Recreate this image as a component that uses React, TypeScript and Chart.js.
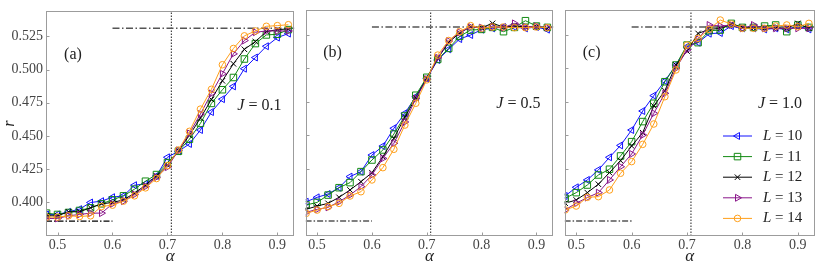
import React, { useEffect, useRef } from 'react';
import { Chart, registerables } from 'chart.js';
import { drawPoint } from 'chart.js/helpers';

Chart.register(...registerables);

const FONT = "'Liberation Serif', 'Times New Roman', serif";

// ---- data ----
const ALPHAS = [0.48, 0.50, 0.52, 0.54, 0.56, 0.58, 0.60, 0.62, 0.64, 0.66, 0.68, 0.70,
  0.72, 0.74, 0.76, 0.78, 0.80, 0.82, 0.84, 0.86, 0.88, 0.90, 0.92];
const SIZES = ['10', '11', '12', '13', '14'];

const A_L10 = [0.391, 0.391, 0.393, 0.395, 0.400, 0.401, 0.404, 0.405, 0.413, 0.414, 0.420, 0.434, 0.4385, 0.444, 0.4545, 0.468, 0.4777, 0.4873, 0.5006, 0.509, 0.5175, 0.524, 0.527];
const A_L11 = [0.392, 0.391, 0.3925, 0.394, 0.396, 0.399, 0.402, 0.405, 0.410, 0.416, 0.421, 0.430, 0.4385, 0.4476, 0.4595, 0.4745, 0.4848, 0.494, 0.5079, 0.5195, 0.526, 0.5265, 0.530];
const A_L12 = [0.390, 0.390, 0.393, 0.393, 0.396, 0.399, 0.400, 0.402, 0.407, 0.413, 0.420, 0.428, 0.439, 0.4505, 0.4635, 0.4775, 0.4915, 0.5043, 0.5152, 0.521, 0.5285, 0.530, 0.5305];
const A_L13 = [0.388, 0.388, 0.390, 0.391, 0.392, 0.392, 0.399, 0.401, 0.406, 0.412, 0.419, 0.4266, 0.4392, 0.452, 0.4665, 0.482, 0.4968, 0.5118, 0.5218, 0.528, 0.529, 0.529, 0.529];
const A_L14 = [0.389, 0.389, 0.390, 0.3895, 0.390, 0.397, 0.398, 0.401, 0.405, 0.411, 0.418, 0.4278, 0.4395, 0.4535, 0.4702, 0.4851, 0.5036, 0.5158, 0.5253, 0.529, 0.5325, 0.533, 0.5337];

const B_L10 = [0.4004, 0.4037, 0.4062, 0.4109, 0.4192, 0.4229, 0.4353, 0.442, 0.4553, 0.4665, 0.479, 0.4926, 0.5063, 0.5143, 0.522, 0.525, 0.529, 0.530, 0.531, 0.531, 0.530, 0.531, 0.529];
const B_L11 = [0.398, 0.3999, 0.4054, 0.4109, 0.4147, 0.4229, 0.4316, 0.4391, 0.451, 0.4645, 0.480, 0.4934, 0.5068, 0.515, 0.524, 0.5287, 0.5292, 0.5307, 0.5275, 0.5307, 0.5357, 0.5317, 0.5307];
const B_L12 = [0.3947, 0.3972, 0.3992, 0.4037, 0.4092, 0.4154, 0.4221, 0.434, 0.4478, 0.4635, 0.478, 0.4926, 0.5075, 0.5195, 0.5265, 0.5312, 0.5305, 0.5337, 0.531, 0.5318, 0.531, 0.5312, 0.530];
const B_L13 = [0.3925, 0.3947, 0.3962, 0.4004, 0.4054, 0.4117, 0.4204, 0.4328, 0.4441, 0.460, 0.4775, 0.492, 0.508, 0.5205, 0.527, 0.531, 0.5305, 0.531, 0.5305, 0.5337, 0.531, 0.5315, 0.5305];
const B_L14 = [0.3917, 0.3942, 0.3967, 0.3992, 0.4047, 0.4079, 0.4167, 0.4259, 0.4396, 0.4577, 0.474, 0.4915, 0.510, 0.5209, 0.5275, 0.532, 0.530, 0.531, 0.531, 0.5305, 0.5305, 0.531, 0.5305];

const C_L10 = [0.4047, 0.4112, 0.4167, 0.4242, 0.4336, 0.4425, 0.454, 0.4682, 0.4797, 0.4906, 0.5026, 0.5163, 0.5193, 0.526, 0.5265, 0.5317, 0.530, 0.530, 0.5292, 0.530, 0.5292, 0.5317, 0.5292];
const C_L11 = [0.403, 0.4072, 0.4129, 0.4204, 0.4247, 0.4346, 0.4453, 0.4603, 0.474, 0.4901, 0.5026, 0.5175, 0.5193, 0.5282, 0.5287, 0.5337, 0.5307, 0.5307, 0.5317, 0.5325, 0.5275, 0.5325, 0.5307];
const C_L12 = [0.3993, 0.4017, 0.4072, 0.4135, 0.4222, 0.4311, 0.4421, 0.452, 0.472, 0.4834, 0.5026, 0.513, 0.5262, 0.5292, 0.530, 0.5332, 0.5307, 0.530, 0.530, 0.530, 0.530, 0.5337, 0.530];
const C_L13 = [0.3943, 0.3993, 0.4035, 0.4072, 0.4167, 0.4266, 0.4361, 0.4503, 0.4665, 0.4814, 0.5001, 0.5138, 0.5218, 0.5325, 0.5317, 0.5325, 0.530, 0.5325, 0.530, 0.530, 0.530, 0.530, 0.530];
const C_L14 = [0.3943, 0.3972, 0.4037, 0.4042, 0.4092, 0.4217, 0.4304, 0.4433, 0.4585, 0.4789, 0.4989, 0.5175, 0.5225, 0.5292, 0.5362, 0.5332, 0.530, 0.530, 0.530, 0.5317, 0.5325, 0.5312, 0.5337];

const X_MIN = 0.479;
const X_MAX = 0.931;
const Y_MIN = 0.3748;
const Y_MAX = 0.5437;
const X_TICKS = [0.5, 0.6, 0.7, 0.8, 0.9];
const Y_TICKS = [0.400, 0.425, 0.450, 0.475, 0.500, 0.525];
const R_HIGH = 0.531;
const R_LOW = 0.386;
const ALPHA_C = 0.7071;
const ALPHA_SPLIT = 0.6;

const PANEL_TAGS = ['(a)', '(b)', '(c)'];
const PANEL_J = ['0.1', '0.5', '1.0'];

// ---- styles ----
const STYLES = [
  { color: '#1010ff', pointStyle: 'triangle', rotation: -90, radius: 4 },
  { color: '#138a13', pointStyle: 'rect', rotation: 0, radius: 4.6 },
  { color: '#000000', pointStyle: 'crossRot', rotation: 0, radius: 3.9 },
  { color: '#8a168a', pointStyle: 'triangle', rotation: 90, radius: 4 },
  { color: '#ff9f1a', pointStyle: 'circle', rotation: 0, radius: 3.3 },
];
const FRAME_COLOR = '#9c9c9c';
const TICK_COLOR = '#444444';
const TEXT_COLOR = '#222222';

type Part = { t: string; italic?: boolean };

function drawParts(ctx: CanvasRenderingContext2D, parts: Part[], x: number, y: number, size: number, align: 'left' | 'right' | 'center') {
  const widths = parts.map((p) => {
    ctx.font = `${p.italic ? 'italic ' : ''}${size}px ${FONT}`;
    return ctx.measureText(p.t).width;
  });
  const total = widths.reduce((a, b) => a + b, 0);
  let cx = align === 'left' ? x : align === 'right' ? x - total : x - total / 2;
  ctx.textAlign = 'left';
  ctx.textBaseline = 'middle';
  parts.forEach((p, i) => {
    ctx.font = `${p.italic ? 'italic ' : ''}${size}px ${FONT}`;
    ctx.fillText(p.t, cx, y);
    cx += widths[i];
  });
}

const framePlugin = {
  id: 'frame',
  afterDatasetsDraw(chart: any) {
    const { ctx, chartArea } = chart;
    const l = Math.round(chartArea.left) + 0.5;
    const t = Math.round(chartArea.top) + 0.5;
    const r = Math.round(chartArea.right) - 0.5;
    const b = Math.round(chartArea.bottom) - 0.5;
    ctx.save();
    ctx.strokeStyle = FRAME_COLOR;
    ctx.lineWidth = 1;
    ctx.strokeRect(l, t, r - l, b - t);
    ctx.beginPath();
    X_TICKS.forEach((v) => {
      const px = Math.round(chart.scales.x.getPixelForValue(v)) + 0.5;
      ctx.moveTo(px, b);
      ctx.lineTo(px, b - 3);
    });
    Y_TICKS.forEach((v) => {
      const py = Math.round(chart.scales.y.getPixelForValue(v)) + 0.5;
      ctx.moveTo(l, py);
      ctx.lineTo(l + 3, py);
    });
    ctx.stroke();
    ctx.restore();
  },
};

function makeTextPlugin(panel: number) {
  return {
    id: 'panelText' + panel,
    afterDraw(chart: any) {
      const { ctx, chartArea } = chart;
      ctx.save();
      ctx.fillStyle = TEXT_COLOR;
      drawParts(ctx, [{ t: PANEL_TAGS[panel] }], chartArea.left + 27, chartArea.top + 43, 16, 'center');
      drawParts(ctx, [{ t: 'J', italic: true }, { t: ' = ' + PANEL_J[panel] }], chartArea.right - 13, chartArea.top + 94, 16, 'right');
      if (panel === 2) {
        SIZES.forEach((s, i) => {
          const st = STYLES[i];
          const y = chartArea.top + 126 + i * 20.6;
          const x1 = chartArea.right - 92;
          const x2 = chartArea.right - 63;
          ctx.strokeStyle = st.color;
          ctx.lineWidth = 1;
          ctx.beginPath();
          ctx.moveTo(x1, y);
          ctx.lineTo(x2, y);
          ctx.stroke();
          ctx.fillStyle = 'rgba(255,255,255,0)';
          drawPoint(ctx, { pointStyle: st.pointStyle as any, rotation: st.rotation, radius: st.radius, borderWidth: 1 } as any, (x1 + x2) / 2, y);
          ctx.fillStyle = TEXT_COLOR;
          drawParts(ctx, [{ t: 'L', italic: true }, { t: ' = ' + s }], chartArea.right - 52, y, 15, 'left');
        });
      }
      ctx.restore();
    },
  };
}

const PANEL_SERIES = [
  [A_L10, A_L11, A_L12, A_L13, A_L14],
  [B_L10, B_L11, B_L12, B_L13, B_L14],
  [C_L10, C_L11, C_L12, C_L13, C_L14],
];

const PANELS = [
  { left: 0, width: 300, padLeft: 0, padRight: 2, showY: true },
  { left: 300, width: 259, padLeft: 5, padRight: 2, showY: false },
  { left: 559, width: 263, padLeft: 4, padRight: 7, showY: false },
];

function buildConfig(panel: number): any {
  const p = PANELS[panel];
  const series = PANEL_SERIES[panel].map((vals, i) => {
    const st = STYLES[i];
    return {
      label: 'L = ' + SIZES[i],
      data: ALPHAS.map((a, k) => ({ x: a, y: vals[k] })),
      borderColor: st.color,
      backgroundColor: 'rgba(255,255,255,0)',
      borderWidth: 1,
      pointStyle: st.pointStyle,
      rotation: st.rotation,
      pointRadius: st.radius,
      pointBorderColor: st.color,
      pointBackgroundColor: 'rgba(255,255,255,0)',
      pointBorderWidth: 1,
      tension: 0,
      clip: 0,
      order: 5 - i,
    };
  });
  const refLines = [
    {
      label: 'high',
      data: [{ x: ALPHA_SPLIT, y: R_HIGH }, { x: X_MAX, y: R_HIGH }],
      borderColor: '#555555', borderWidth: 1.5, borderDash: [7, 2.5, 1.5, 2.5],
      pointRadius: 0, clip: 0, order: 10,
    },
    {
      label: 'low',
      data: [{ x: X_MIN, y: R_LOW }, { x: ALPHA_SPLIT, y: R_LOW }],
      borderColor: '#000000', borderWidth: 1.2, borderDash: [6, 2, 1.5, 2],
      pointRadius: 0, clip: 0, order: 10,
    },
    {
      label: 'critical',
      data: [{ x: ALPHA_C, y: Y_MIN }, { x: ALPHA_C, y: Y_MAX }],
      borderColor: '#333333', borderWidth: 1.1, borderDash: [1.5, 1.5],
      pointRadius: 0, clip: 0, order: 10,
    },
  ];
  return {
    type: 'line',
    data: { datasets: [...series, ...refLines] },
    options: {
      animation: false,
      responsive: false,
      events: [],
      layout: { padding: { left: p.padLeft, right: p.padRight, top: 10, bottom: 0 } },
      plugins: { legend: { display: false }, tooltip: { enabled: false } },
      scales: {
        x: {
          type: 'linear',
          min: X_MIN,
          max: X_MAX,
          grid: { display: false, drawTicks: false },
          border: { display: false },
          afterBuildTicks: (s: any) => { s.ticks = X_TICKS.map((v) => ({ value: v })); },
          afterFit: (s: any) => { s.height = 38; },
          ticks: {
            autoSkip: false, maxRotation: 0, padding: 1, color: TICK_COLOR,
            font: { family: FONT, size: 14 },
            callback: (v: any) => Number(v).toFixed(1),
          },
          title: {
            display: true, text: 'α', color: TEXT_COLOR,
            font: { family: FONT, size: 17, style: 'italic' },
            padding: { top: 0, bottom: 7 },
          },
        },
        y: {
          type: 'linear',
          min: Y_MIN,
          max: Y_MAX,
          display: p.showY,
          grid: { display: false, drawTicks: false },
          border: { display: false },
          afterBuildTicks: (s: any) => { s.ticks = Y_TICKS.map((v) => ({ value: v })); },
          afterFit: (s: any) => { s.width = p.showY ? 46 : 0; },
          ticks: {
            autoSkip: false, padding: 3, color: TICK_COLOR,
            font: { family: FONT, size: 14 },
            callback: (v: any) => Number(v).toFixed(3),
          },
          title: {
            display: true, text: 'r', color: TEXT_COLOR,
            font: { family: FONT, size: 16, style: 'italic' },
            padding: 0,
          },
        },
      },
    },
    plugins: [framePlugin, makeTextPlugin(panel)],
  };
}

function Panel({ index }: { index: number }) {
  const ref = useRef<HTMLCanvasElement>(null);
  const p = PANELS[index];
  useEffect(() => {
    const chart = new Chart(ref.current as HTMLCanvasElement, buildConfig(index));
    return () => chart.destroy();
  }, [index]);
  return (
    <canvas
      ref={ref}
      width={p.width}
      height={274}
      style={{ position: 'absolute', left: p.left, top: 0, width: p.width, height: 274 }}
    />
  );
}

export default function App() {
  return (
    <div style={{ position: 'absolute', left: 0, top: 0, width: 822, height: 274, background: '#ffffff' }}>
      <Panel index={0} />
      <Panel index={1} />
      <Panel index={2} />
    </div>
  );
}
